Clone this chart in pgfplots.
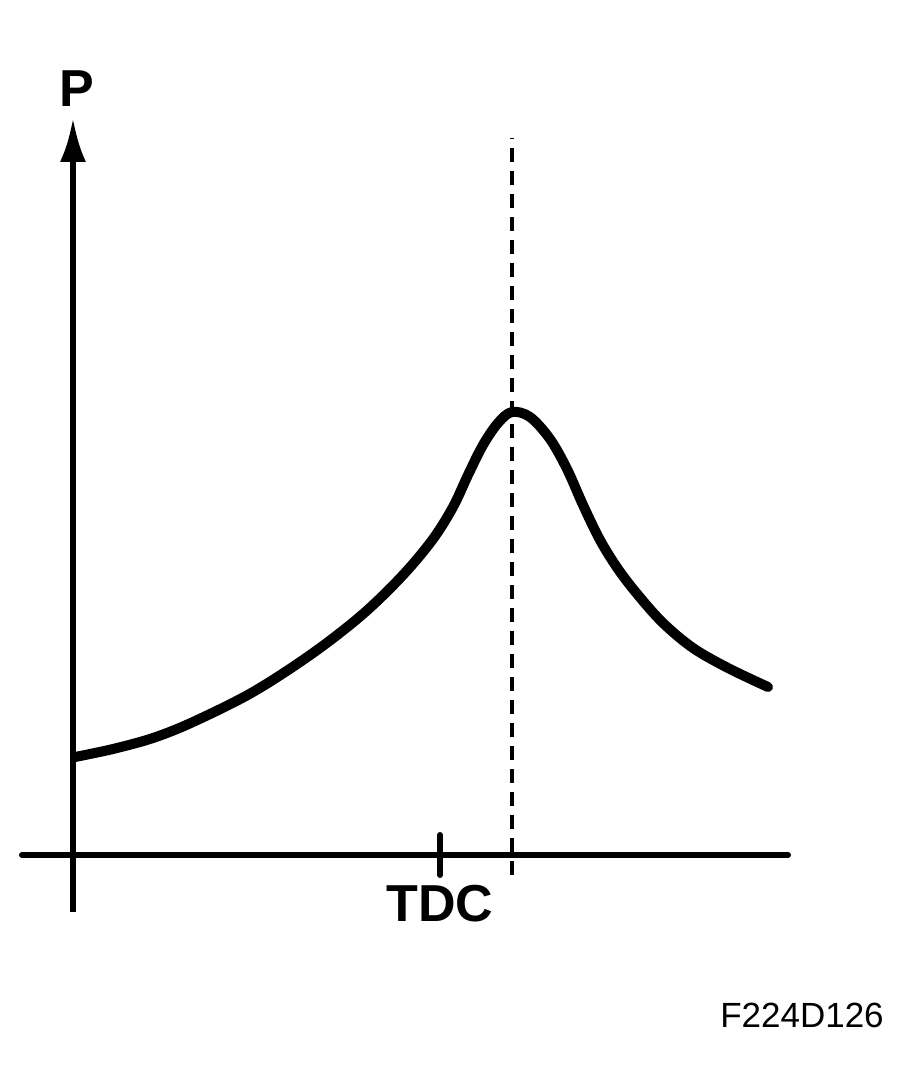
\documentclass[border=0pt]{standalone}
\usepackage{pgfplots}
\pgfplotsset{compat=1.18}
\usepackage{fontspec}
\setmainfont{Liberation Sans}
\usetikzlibrary{arrows.meta}
\begin{document}
\begin{tikzpicture}
\begin{axis}[
  x=0.5pt, y=0.5pt,
  xmin=-51, xmax=715, ymin=-57, ymax=737,
  enlargelimits=false,
  axis lines=middle,
  clip=false,
  axis line style={line width=3pt, black, line cap=round},
  x axis line style={-},
  y axis line style={-{Latex[length=22pt,width=13pt]}, line cap=butt},
  xtick={367}, xticklabels={},
  ytick=\empty,
  tick align=center,
  major tick length=20pt,
  tick style={line width=3pt, black, line cap=round},
]
\path (axis cs:-73,855) rectangle (axis cs:837,-217);
\addplot[black, line width=1.8pt, dash pattern=on 7pt off 4.5pt] coordinates {(439,-20) (439,717)};
\addplot[black, line width=5pt, smooth, tension=0.55, line cap=round] coordinates {
(2,98) (40,106) (80,117) (120,133) (180,163) (240,202) (290,241) (330,280) (360,316) (380,348)
(395,380) (410,410) (425,432) (439,443)
(457,438) (477,416) (494,386) (510,350) (527,315) (545,286) (565,260)
(590,232) (620,207) (655,187) (695,168)
};
\node[inner sep=0, font=\fontsize{26}{30}\selectfont\bfseries] at (axis cs:4,766.5) {P};
\node[inner sep=0, font=\fontsize{26}{30}\selectfont\bfseries] at (axis cs:367,-49) {TDC};
\node[inner sep=0, font=\fontsize{17.5}{20}\selectfont] at (axis cs:729,-160) {F224D126};
\end{axis}
\end{tikzpicture}
\end{document}
